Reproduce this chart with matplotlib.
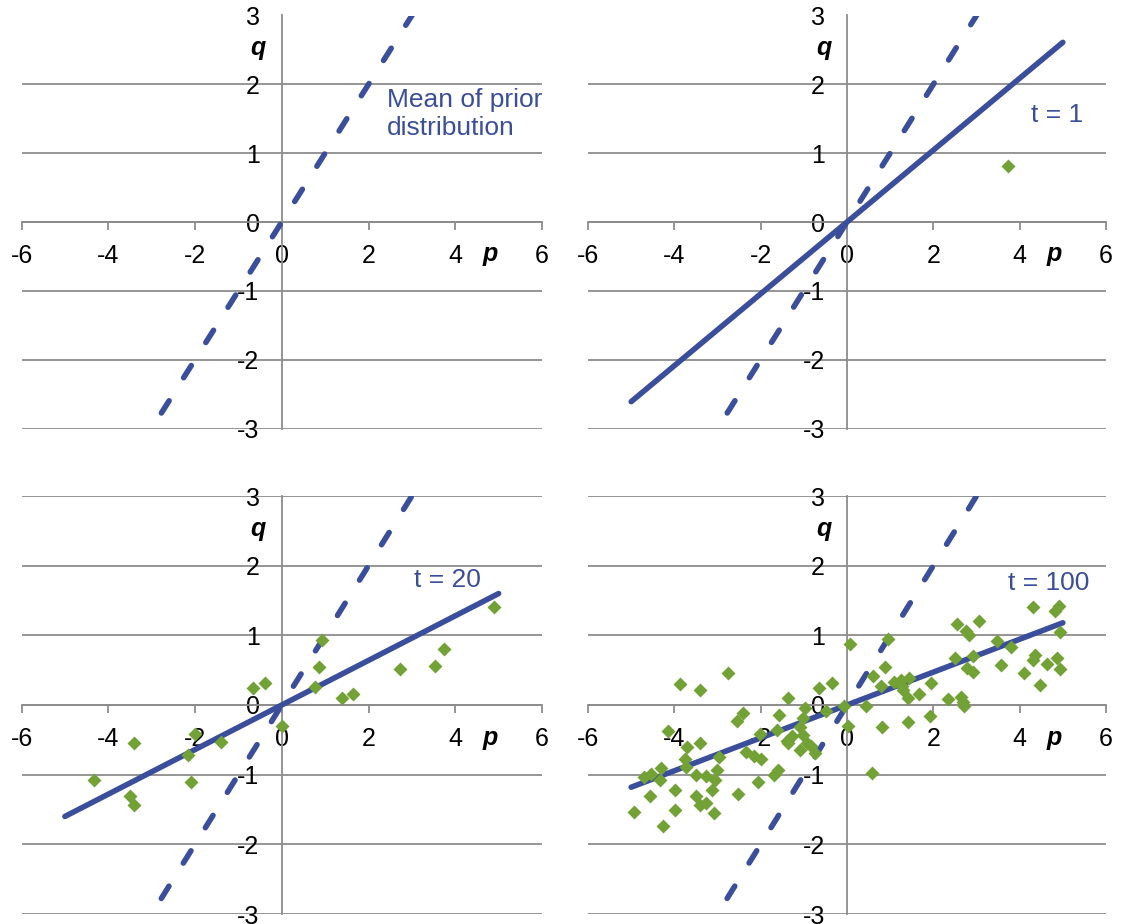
import matplotlib.pyplot as plt

plt.rcParams.update({
    "font.family": ["Liberation Sans", "DejaVu Sans"],
    "font.size": 18,
    "axes.unicode_minus": False,
})

BLUE = "#3A4E9C"
GREEN = "#72A236"
GRID = "#8C8C8C"
W, H = 1121, 924

# axis ticks
p_ticks = [-6, -4, -2, 0, 2, 4, 6]
q_ticks = [-3, -2, -1, 0, 1, 2, 3]

# mean of prior distribution (dashed, runs off the top of the plot)
prior_p = [-3, 3.4]
prior_q = [-3, 3.4]

# posterior mean lines
fit_p = [-5, 5]
fit_q_t1 = [-2.61, 2.61]
fit_q_t20 = [-1.60, 1.60]
fit_q_t100 = [-1.18, 1.18]

# observations
obs_p_t1 = [3.74]
obs_q_t1 = [0.82]

obs_p_t20 = [4.89, 3.74, 3.54, 2.73, 1.64, 1.39, 0.93, 0.87, 0.76, -0.38,
             -0.66, 0.0, -2.0, -1.41, -3.40, -2.15, -2.09, -4.34, -3.50, -3.40]
obs_q_t20 = [1.41, 0.81, 0.56, 0.52, 0.16, 0.10, 0.94, 0.54, 0.26, 0.32,
             0.24, -0.30, -0.41, -0.53, -0.54, -0.72, -1.10, -1.08, -1.31, -1.44]

obs_p_t100 = [-4.94, -4.26, -4.56, -4.71, -4.55, -4.31, -4.34, -3.98, -3.98, -4.15,
              -3.88, -3.40, -2.75, -3.71, -3.40, -3.76, -3.72, -3.50, -3.26, -3.02,
              -2.97, -3.05, -3.12, -3.50, -3.40, -3.26, -3.09, -2.52, -2.07, -1.68,
              -1.61, -2.54, -2.42, -2.33, -2.15, -2.00, -2.02, -1.63, -1.57, -1.37,
              -1.40, -1.28, -1.10, -1.09, -1.03, -0.97, -1.01, -0.93, -0.84, -0.74,
              -0.66, -0.35, -0.48, -0.08, 0.06, 0.02, -1.36,
              0.58, 0.45, 0.60, 0.79, 0.89, 0.95, 0.81, 1.08, 1.24, 1.43,
              1.30, 1.41, 1.41, 1.66, 1.95, 1.92, 2.33, 2.55, 2.51, 2.76,
              2.82, 3.05, 2.63, 2.69, 2.72, 2.78, 2.92, 2.93, 3.47, 3.80,
              3.57, 4.11, 4.32, 4.36, 4.31, 4.48, 4.63, 4.83, 4.90, 4.94,
              4.86, 4.93, 1.27]
obs_q_t100 = [-1.53, -1.73, -1.31, -1.03, -0.99, -0.90, -1.08, -1.22, -1.50, -0.38,
              0.30, 0.21, 0.46, -0.60, -0.55, -0.78, -0.89, -1.01, -1.02, -0.93,
              -0.74, -1.07, -1.22, -1.31, -1.43, -1.40, -1.55, -1.28, -1.11, -1.00,
              -0.94, -0.23, -0.11, -0.67, -0.73, -0.78, -0.41, -0.36, -0.15, 0.10,
              -0.52, -0.45, -0.64, -0.31, -0.19, -0.04, -0.43, -0.55, -0.59, -0.69,
              0.24, 0.32, -0.09, -0.01, 0.87, -0.30, -0.55,
              -0.98, -0.02, 0.41, 0.27, 0.54, 0.95, -0.31, 0.33, 0.36, 0.39,
              0.22, 0.10, -0.25, 0.16, 0.32, -0.16, 0.09, 1.16, 0.68, 1.06,
              1.01, 1.20, 0.12, 0.05, -0.02, 0.53, 0.48, 0.70, 0.92, 0.83,
              0.57, 0.46, 0.65, 0.72, 1.40, 0.28, 0.59, 1.35, 1.42, 1.05,
              0.68, 0.52, 0.27]


def make_axes(fig, x0, y0, x1, y1):
    ax = fig.add_axes([x0 / W, 1 - y1 / H, (x1 - x0) / W, (y1 - y0) / H])
    ax.set_xlim(-6, 6)
    ax.set_ylim(-3, 3)
    ax.set_xticks(p_ticks)
    ax.set_yticks(q_ticks)
    for side in ["top", "right"]:
        ax.spines[side].set_visible(False)
    for side in ["left", "bottom"]:
        ax.spines[side].set_position(("data", 0))
        ax.spines[side].set_color(GRID)
        ax.spines[side].set_linewidth(1.3)
    ax.yaxis.grid(True, color=GRID, lw=1.3)
    ax.set_axisbelow(True)
    ax.tick_params(axis="x", direction="out", length=5.5, width=1.3,
                   color=GRID, pad=10, labelsize=18)
    ax.tick_params(axis="y", length=0, pad=16, labelsize=18)
    ax.set_facecolor("none")
    ax.text(-0.54, 2.53, "q", fontsize=18, fontweight="bold", fontstyle="italic",
            ha="center", va="center")
    ax.text(4.81, -0.47, "p", fontsize=18, fontweight="bold", fontstyle="italic",
            ha="center", va="center")
    ax.plot(prior_p, prior_q, color=BLUE, lw=4, ls=(4.2, (2.6, 4.9)),
            dash_capstyle="round", zorder=3)
    return ax


def add_fit(ax, q, label, lx, ly):
    ax.plot(fit_p, q, color=BLUE, lw=4, solid_capstyle="round", zorder=3)
    ax.text(lx, ly, label, color=BLUE, fontsize=19, ha="left", va="center")


def add_obs(ax, p, q):
    ax.plot(p, q, "D", color=GREEN, ms=7, mec="none", zorder=4)


fig = plt.figure(figsize=(W / 100, H / 100), dpi=100)

ax1 = make_axes(fig, 21.5, 15.5, 542, 428.5)
ax1.text(2.42, 1.57, "Mean of prior\ndistribution", color=BLUE, fontsize=19,
         ha="left", va="center", linespacing=1.2)

ax2 = make_axes(fig, 588, 15.5, 1106, 428.5)
add_fit(ax2, fit_q_t1, "t = 1", 4.26, 1.55)
add_obs(ax2, obs_p_t1, obs_q_t1)

ax3 = make_axes(fig, 21.5, 496, 542, 914)
add_fit(ax3, fit_q_t20, "t = 20", 3.04, 1.80)
add_obs(ax3, obs_p_t20, obs_q_t20)

ax4 = make_axes(fig, 588, 496, 1106, 914)
add_fit(ax4, fit_q_t100, "t = 100", 3.73, 1.75)
add_obs(ax4, obs_p_t100, obs_q_t100)

fig.savefig("out.png", dpi=100)
